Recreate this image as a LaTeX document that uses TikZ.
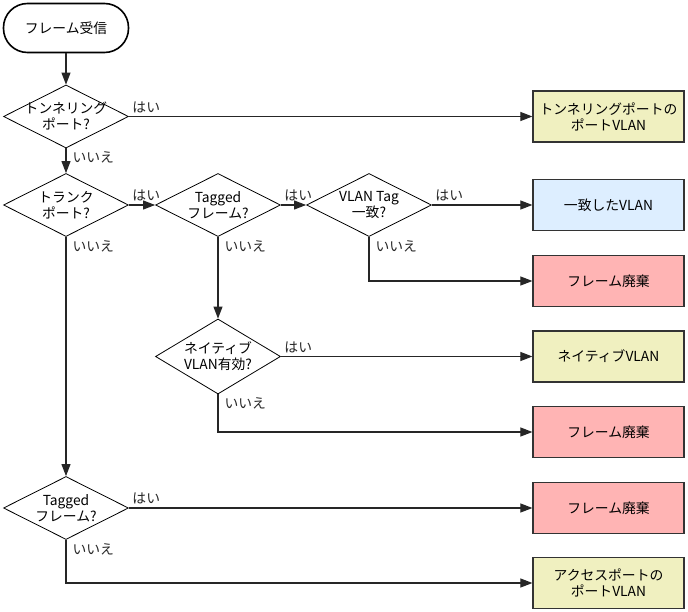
\documentclass[tikz,border=0pt]{standalone}
\usepackage{fontspec}
\setmainfont{Noto Sans CJK JP}
\usetikzlibrary{shapes.geometric,arrows.meta}
\definecolor{vlanyellow}{RGB}{240,240,192}
\definecolor{vlanblue}{RGB}{221,238,255}
\definecolor{dropred}{RGB}{255,180,180}

\begin{document}
\begin{tikzpicture}[x=1pt,y=-1pt,
  > = {Triangle[length=12pt,width=9pt]},
  font=\fontsize{13.8}{16}\selectfont,
  start/.style={draw,line width=1.6pt,rounded corners=24pt,minimum width=125pt,minimum height=49pt},
  decide/.style={draw,diamond,aspect=2,inner sep=-9pt,minimum width=125pt,minimum height=63pt,align=center,line width=0.8pt},
  result/.style={draw=black!80,line width=1.2pt,minimum width=151pt,minimum height=51pt,align=center},
  flow/.style={->,line width=1.1pt,black!85},
  yes/.style={pos=0,above right,inner sep=3pt},
  no/.style={pos=0,below right,inner sep=3pt,xshift=3pt}]
\useasboundingbox (0,0) rectangle (688,612);

\node[start] (recv) at (66,28) {フレーム受信};

\node[decide] (tunnel) at (66,116.5) {トンネリング\\ポート?};
\node[decide] (trunk)  at (66,205)   {トランク\\ポート?};
\node[decide] (tagged) at (218,205)  {Tagged\\フレーム?};
\node[decide] (vtag)   at (369,205)  {VLAN Tag\\一致?};
\node[decide,minimum height=75pt] (native) at (218,356.5) {ネイティブ\\VLAN有効?};
\node[decide] (access) at (66,508)   {Tagged\\フレーム?};

\node[result,fill=vlanyellow] (tunnelvlan) at (608.5,116.5) {トンネリングポートの\\ポートVLAN};
\node[result,fill=vlanblue]   (match)      at (608.5,205)   {一致したVLAN};
\node[result,fill=dropred]    (drop1)      at (608.5,281)   {フレーム廃棄};
\node[result,fill=vlanyellow] (nativevlan) at (608.5,356.5) {ネイティブVLAN};
\node[result,fill=dropred]    (drop2)      at (608.5,432)   {フレーム廃棄};
\node[result,fill=dropred]    (drop3)      at (608.5,508)   {フレーム廃棄};
\node[result,fill=vlanyellow] (accessvlan) at (608.5,583)   {アクセスポートの\\ポートVLAN};

\draw[flow] (recv) -- (tunnel);
\draw[flow] (tunnel) -- node[yes] {はい} (tunnelvlan);
\draw[flow] (tunnel) -- node[no] {いいえ} (trunk);

\draw[flow] (trunk) -- node[yes] {はい} (tagged);
\draw[flow] (trunk) -- node[no] {いいえ} (access);

\draw[flow] (tagged) -- node[yes] {はい} (vtag);
\draw[flow] (tagged) -- node[no] {いいえ} (native);

\draw[flow] (vtag) -- node[yes] {はい} (match);
\draw[flow] (vtag.south) |- node[no] {いいえ} (drop1);

\draw[flow] (native) -- node[yes] {はい} (nativevlan);
\draw[flow] (native.south) |- node[no] {いいえ} (drop2);

\draw[flow] (access) -- node[yes] {はい} (drop3);
\draw[flow] (access.south) |- node[no] {いいえ} (accessvlan);
\end{tikzpicture}
\end{document}
